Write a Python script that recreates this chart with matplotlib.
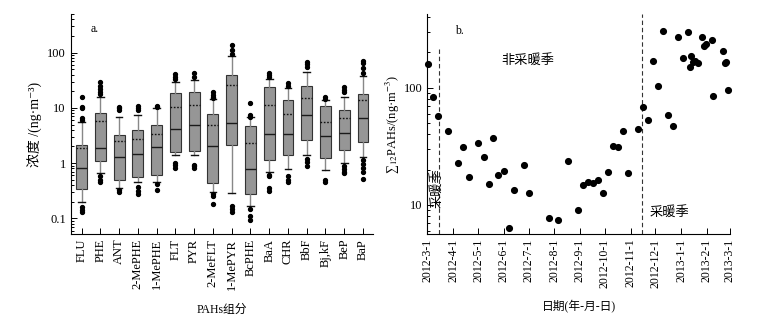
import numpy as np
import matplotlib
matplotlib.use('Agg')
import matplotlib.pyplot as plt
import matplotlib.dates as mdates
from matplotlib.ticker import FixedLocator, LogLocator, NullFormatter
from datetime import datetime

plt.rcParams['font.family'] = ['Liberation Serif', 'Noto Sans CJK SC', 'DejaVu Serif']
plt.rcParams['mathtext.fontset'] = 'stix'

# ---- panel a: box statistics (ng/m3) ----
compounds = ['FLU', 'PHE', 'ANT', '2-MePHE', '1-MePHE', 'FLT', 'PYR', '2-MeFLT',
             '1-MePYR', 'BcPHE', 'BaA', 'CHR', 'BbF', 'Bj,kF', 'BeP', 'BaP']
q1 = [0.34, 1.09, 0.49, 0.57, 0.60, 1.62, 1.69, 0.43, 2.1, 0.28, 1.12, 1.39, 2.6, 1.23, 1.7, 2.4]
med = [0.81, 1.9, 1.28, 1.45, 1.97, 4.2, 5.0, 2.03, 5.3, 0.78, 3.3, 3.3, 7.3, 3.07, 3.5, 6.6]
q3 = [2.14, 8.0, 3.2, 4.0, 4.8, 18.3, 19.4, 7.9, 39, 4.65, 23.5, 13.9, 24.5, 10.8, 9.2, 17.8]
means = [1.86, 5.8, 2.5, 2.7, 3.3, 10.3, 11.1, 4.85, 26, 2.36, 11.4, 7.6, 14.9, 5.5, 6.6, 13.7]
whis_lo = [0.20, 0.66, 0.35, 0.45, 0.45, 1.39, 1.43, 0.30, 0.29, 0.17, 0.70, 0.78, 1.41, 0.76, 1.0, 1.3]
whis_hi = [5.6, 16, 6.8, 7.3, 10, 29, 31.5, 14.5, 86, 6.7, 33.6, 22.5, 45, 13.7, 16, 37.6]
outliers = [
    [16, 10.5, 10, 6.5, 6, 0.16, 0.14, 0.13],
    [29, 25, 22, 19, 18, 0.58, 0.5, 0.46],
    [10.5, 9.8, 9, 0.32, 0.3],
    [11, 10, 9, 0.37, 0.31, 0.27],
    [11, 10.5, 0.42, 0.33],
    [41, 37, 34, 1.0, 0.93, 0.81],
    [43, 36, 0.94, 0.87, 0.81],
    [19.6, 17, 16, 15, 0.28, 0.25, 0.18],
    [137, 110, 96, 0.17, 0.15, 0.13],
    [12.1, 7.4, 6.9, 0.15, 0.11, 0.095],
    [43, 39, 36.6, 0.62, 0.58, 0.35, 0.31],
    [27.7, 25, 0.58, 0.5, 0.45],
    [68, 62, 55, 1.18, 1.03, 0.87],
    [16, 14.5, 0.5, 0.45],
    [23.5, 21, 19, 0.87, 0.78, 0.7, 0.66],
    [71, 64, 52, 43, 1.15, 0.97, 0.81, 0.68, 0.52],
]

# ---- panel b: sum of 12 PAHs time series ----
dates = ['2012-03-02', '2012-03-08', '2012-03-14', '2012-03-26', '2012-04-07', '2012-04-13',
         '2012-04-20', '2012-05-01', '2012-05-08', '2012-05-14', '2012-05-19', '2012-05-25',
         '2012-06-01', '2012-06-07', '2012-06-13', '2012-06-25', '2012-07-01', '2012-07-26',
         '2012-08-06', '2012-08-18', '2012-08-30', '2012-09-05', '2012-09-11', '2012-09-17',
         '2012-09-23', '2012-09-29', '2012-10-05', '2012-10-11', '2012-10-17', '2012-10-23',
         '2012-10-29', '2012-11-10', '2012-11-16', '2012-11-22', '2012-11-28', '2012-12-04',
         '2012-12-10', '2012-12-16', '2012-12-22', '2012-12-28', '2013-01-03', '2013-01-09',
         '2013-01-12', '2013-01-13', '2013-01-15', '2013-01-18', '2013-01-21', '2013-01-26',
         '2013-01-29', '2013-01-31', '2013-02-07', '2013-02-09', '2013-02-21', '2013-02-23',
         '2013-02-24', '2013-02-27']
total = [158, 83, 57, 43, 23, 31, 17.2, 34, 25.7, 15.2, 37, 18, 19.5, 6.3, 13.5, 21.9, 12.6, 7.7,
         7.4, 23.5, 9.05, 14.8, 15.8, 15.4, 16.2, 12.6, 19.2, 31.7, 31.4, 42.5, 18.6, 44.7, 69, 53,
         169, 104, 302, 58, 47, 272, 180, 298, 151, 187, 165, 169, 164, 270, 226, 236, 255, 85,
         204, 162, 166, 96]
season_breaks = ['2012-03-15', '2012-11-15']

fig = plt.figure(figsize=(7.75, 3.16), dpi=100)
ax1 = fig.add_axes([0.0912, 0.2595, 0.3905, 0.696])
ax2 = fig.add_axes([0.5516, 0.2595, 0.3903, 0.696])

# panel a
stats = []
for i, name in enumerate(compounds):
    stats.append(dict(label=name, med=med[i], q1=q1[i], q3=q3[i], mean=means[i],
                      whislo=whis_lo[i], whishi=whis_hi[i], fliers=outliers[i]))
ax1.bxp(stats, widths=0.58, capwidths=0.36, showmeans=True, meanline=True, patch_artist=True,
        boxprops=dict(facecolor='#969696', edgecolor='#333333', linewidth=0.8),
        medianprops=dict(color='#1a1a1a', linewidth=1.0),
        meanprops=dict(color='#111111', linestyle=(0, (1.2, 1.2)), linewidth=1.0),
        whiskerprops=dict(color='#888888', linewidth=1.0),
        capprops=dict(color='#111111', linewidth=1.0),
        flierprops=dict(marker='o', markerfacecolor='black', markeredgecolor='black',
                        markersize=2.8, linestyle='none'))
ax1.set_yscale('log')
ax1.set_ylim(0.052, 500)
ax1.set_xlim(0.42, 16.55)
ax1.yaxis.set_major_locator(FixedLocator([0.1, 1, 10, 100]))
ax1.set_yticklabels(['0.1', '1', '10', '100'])
ax1.yaxis.set_minor_locator(LogLocator(base=10, subs=np.arange(2, 10)))
ax1.yaxis.set_minor_formatter(NullFormatter())
ax1.set_xticks(np.arange(1, len(compounds) + 1))
ax1.set_xticklabels(compounds, rotation=90)
ax1.set_ylabel('浓度 /(ng·m⁻³)', fontsize=10, labelpad=3)
ax1.set_xlabel('PAHs组分', fontsize=8.5, labelpad=10)
ax1.text(0.065, 0.96, 'a.', transform=ax1.transAxes, fontsize=8.5, va='top')

# panel b
t = [datetime.strptime(d, '%Y-%m-%d') for d in dates]
ax2.scatter(t, total, s=17, color='black', zorder=3, clip_on=False)
b0, b1 = [datetime.strptime(d, '%Y-%m-%d') for d in season_breaks]
ax2.axvline(b0, ymax=0.84, color='#333333', linestyle=(0, (4, 2.5)), linewidth=0.8)
ax2.axvline(b1, ymax=1.0, color='#333333', linestyle=(0, (4, 2.5)), linewidth=0.8)
ax2.set_yscale('log')
ax2.set_ylim(5.65, 425)
ax2.set_xlim(datetime(2012, 3, 1), datetime(2013, 3, 1))
ax2.yaxis.set_major_locator(FixedLocator([10, 100]))
ax2.set_yticklabels(['10', '100'])
ax2.yaxis.set_minor_locator(LogLocator(base=10, subs=np.arange(2, 10)))
ax2.yaxis.set_minor_formatter(NullFormatter())
ax2.xaxis.set_major_locator(mdates.MonthLocator())
ax2.xaxis.set_major_formatter(plt.FuncFormatter(
    lambda v, pos: '{0}-{1}-{2}'.format(mdates.num2date(v).year, mdates.num2date(v).month,
                                        mdates.num2date(v).day)))
plt.setp(ax2.get_xticklabels(), rotation=90)
ax2.set_ylabel('∑$_{12}$PAHs/(ng·m$^{-3}$)', fontsize=9, labelpad=1)
ax2.set_xlabel('日期(年-月-日)', fontsize=8.5, labelpad=9)
ax2.text(0.09, 0.95, 'b.', transform=ax2.transAxes, fontsize=8.5, va='top')
ax2.text(0.33, 0.79, '非采暖季', transform=ax2.transAxes, fontsize=9.5, ha='center', va='center')
ax2.text(0.80, 0.10, '采暖季', transform=ax2.transAxes, fontsize=9.5, ha='center', va='center')
ax2.text(0.03, 0.21, '采暖季', transform=ax2.transAxes, fontsize=9.5, ha='center', va='center',
         rotation=90)

for ax in (ax1, ax2):
    ax.spines['top'].set_visible(False)
    ax.spines['right'].set_visible(False)
    ax.spines['left'].set_linewidth(0.8)
    ax.spines['bottom'].set_linewidth(0.8)
    ax.tick_params(which='both', direction='in', width=0.7)
    ax.tick_params(which='major', length=4)
    ax.tick_params(which='minor', length=2)
    ax.tick_params(axis='y', labelsize=9)
ax1.tick_params(axis='x', labelsize=9)
ax2.tick_params(axis='x', labelsize=8.5)

fig.savefig('out.png', dpi=100)
